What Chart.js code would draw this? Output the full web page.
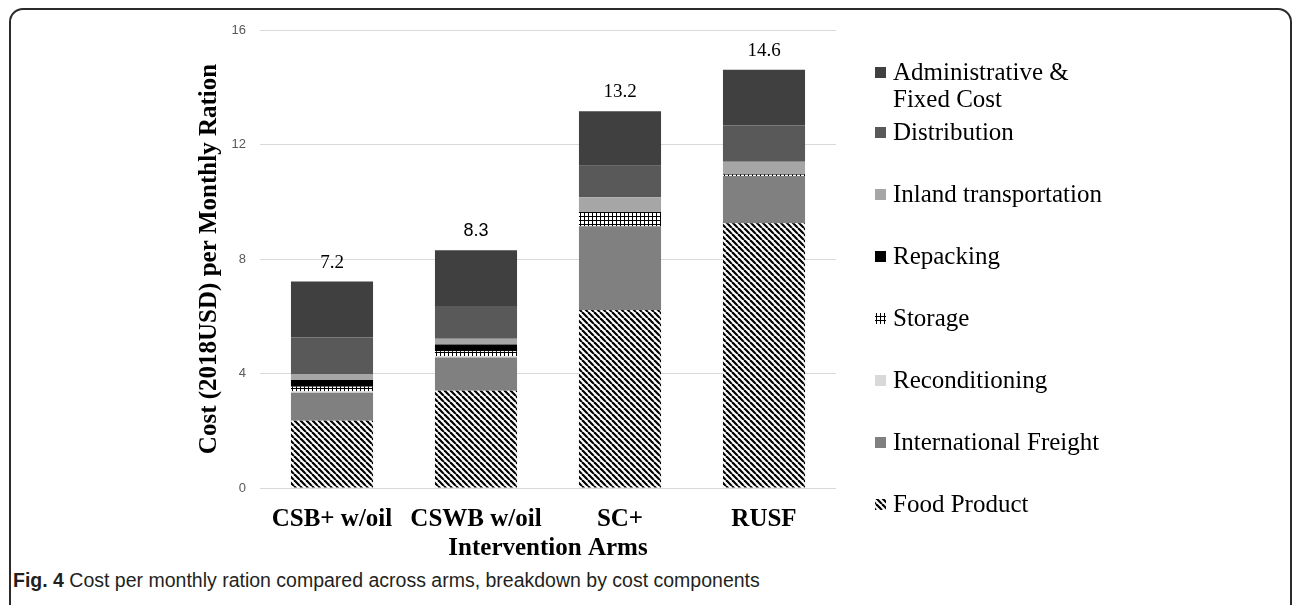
<!DOCTYPE html>
<html>
<head>
<meta charset="utf-8">
<script src="https://cdn.jsdelivr.net/npm/chart.js@4.4.1/dist/chart.umd.min.js"></script>
<style>
  body { margin: 0; background: #fff; width: 1292px; height: 605px; overflow: hidden; position: relative; }
  #frame { position: absolute; left: 9px; top: 8px; width: 1283px; height: 610px; border: 2px solid #2b2b2b;
           border-radius: 14px; box-sizing: border-box; }
  #chart { position: absolute; left: 0; top: 0; }
  #caption { position: absolute; left: 13px; top: 569px; font: 19.5px "Liberation Sans", Arial, sans-serif; color: #231f20; white-space: nowrap; }
  #caption b { font-weight: bold; }
</style>
</head>
<body>
<div id="frame"></div>
<canvas id="chart" width="1292" height="565"></canvas>
<div id="caption"><b>Fig. 4</b> Cost per monthly ration compared across arms, breakdown by cost components</div>
<script>
// ======= Data =======
const categories = ["CSB+ w/oil", "CSWB w/oil", "SC+", "RUSF"];
const yTicks = [0, 4, 8, 12, 16];

// stacked bottom -> top
const foodProduct = [2.35, 3.40, 6.22, 9.25];
const internationalFreight = [0.98, 1.16, 2.92, 1.63];
const reconditioning = [0.05, 0.05, 0, 0];
const storage = [0.16, 0.17, 0.50, 0.06];
const repacking = [0.23, 0.23, 0, 0.03];
const inlandTransport = [0.21, 0.20, 0.52, 0.43];
const distribution = [1.28, 1.15, 1.10, 1.26];
const adminFixed = [1.95, 1.95, 1.90, 1.95];

// ======= Patterns =======
function stripePattern() {
  const c = document.createElement("canvas");
  c.width = 6; c.height = 6;
  const g = c.getContext("2d");
  g.fillStyle = "#fff";
  g.fillRect(0, 0, 6, 6);
  g.strokeStyle = "#000";
  g.lineWidth = 2.2;
  for (let k = -1; k <= 1; k++) {
    g.beginPath();
    g.moveTo(k * 6, 0);
    g.lineTo(k * 6 + 6, 6);
    g.stroke();
  }
  return g.createPattern(c, "repeat");
}
function gridPattern() {
  const c = document.createElement("canvas");
  c.width = 4; c.height = 4;
  const g = c.getContext("2d");
  g.fillStyle = "#fff";
  g.fillRect(0, 0, 4, 4);
  g.fillStyle = "#000";
  g.fillRect(0, 0, 4, 1);
  g.fillRect(0, 0, 1, 4);
  return g.createPattern(c, "repeat");
}

const series = [
  { label: "Food Product", data: foodProduct, color: stripePattern() },
  { label: "International Freight", data: internationalFreight, color: "#808080" },
  { label: "Reconditioning", data: reconditioning, color: "#d9d9d9" },
  { label: "Storage", data: storage, color: gridPattern() },
  { label: "Repacking", data: repacking, color: "#000000" },
  { label: "Inland transportation", data: inlandTransport, color: "#a6a6a6" },
  { label: "Distribution", data: distribution, color: "#595959" },
  { label: ["Administrative &", "Fixed Cost"], data: adminFixed, color: "#404040" }
];

const SERIF = '"Liberation Serif", "Times New Roman", serif';
const SANS = '"Liberation Sans", Arial, sans-serif';

// ======= Extra drawing: totals, axis titles, legend =======
const extras = {
  id: "extras",
  afterDraw(chart) {
    const ctx = chart.ctx;
    const area = chart.chartArea;
    ctx.save();

    // totals above stacks
    const last = chart.getDatasetMeta(chart.data.datasets.length - 1);
    categories.forEach((c, i) => {
      const total = series.reduce((s, d) => s + d.data[i], 0);
      const bar = last.data[i];
      ctx.fillStyle = "#000";
      ctx.textAlign = "center";
      ctx.textBaseline = "middle";
      ctx.font = i === 1 ? "18px " + SANS : "19px " + SERIF;
      ctx.fillText(total.toFixed(1), bar.x, chart.scales.y.getPixelForValue(total) - 19);
    });

    // axis titles
    ctx.font = "bold 25px " + SERIF;
    ctx.fillStyle = "#000";
    ctx.textAlign = "center";
    ctx.textBaseline = "middle";
    ctx.fillText("Intervention Arms", (area.left + area.right) / 2, 549);
    ctx.save();
    ctx.translate(210, (area.top + area.bottom) / 2);
    ctx.rotate(-Math.PI / 2);
    ctx.fillText("Cost (2018USD) per Monthly Ration", 0, 0);
    ctx.restore();

    // legend (top -> bottom is reverse stack order)
    const items = series.slice().reverse();
    const baselines = [80, 140, 202, 264, 326, 388, 450, 512];
    ctx.font = "25px " + SERIF;
    ctx.textAlign = "left";
    ctx.textBaseline = "alphabetic";
    items.forEach((s, i) => {
      const y = baselines[i];
      ctx.fillStyle = s.color;
      ctx.fillRect(875, y - 13, 11, 11);
      ctx.fillStyle = "#000";
      const lines = Array.isArray(s.label) ? s.label : [s.label];
      lines.forEach((t, j) => ctx.fillText(t, 893, y + j * 27));
    });
    ctx.restore();
  }
};

// ======= Chart =======
new Chart(document.getElementById("chart"), {
  type: "bar",
  data: {
    labels: categories,
    datasets: series.map((s) => ({
      label: Array.isArray(s.label) ? s.label.join(" ") : s.label,
      data: s.data,
      backgroundColor: s.color,
      borderWidth: 0,
      barPercentage: 0.57,
      categoryPercentage: 1
    }))
  },
  options: {
    responsive: false,
    devicePixelRatio: 1,
    animation: false,
    layout: { padding: { left: 0, right: 456, top: 30, bottom: 0 } },
    plugins: { legend: { display: false }, tooltip: { enabled: false } },
    scales: {
      x: {
        stacked: true,
        grid: { display: false },
        border: { display: false },
        ticks: { color: "#000", font: { family: SERIF, size: 25, weight: "bold" }, padding: 9 },
        afterFit: (s) => { s.height = 77; }
      },
      y: {
        stacked: true,
        min: 0,
        max: 16,
        afterBuildTicks: (s) => { s.ticks = yTicks.map((v) => ({ value: v })); },
        grid: { color: "#d9d9d9", lineWidth: 1, drawTicks: false },
        border: { display: false },
        ticks: { color: "#595959", font: { family: SANS, size: 13 }, padding: 14 },
        afterFit: (s) => { s.width = 260; }
      }
    }
  },
  plugins: [extras]
});
</script>
</body>
</html>
